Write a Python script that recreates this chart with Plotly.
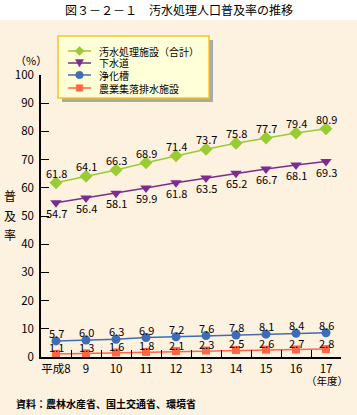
import plotly.graph_objects as go

# ---------------- data ----------------
years = ["平成8", "9", "10", "11", "12", "13", "14", "15", "16", "17"]
total = [61.8, 64.1, 66.3, 68.9, 71.4, 73.7, 75.8, 77.7, 79.4, 80.9]
sewer = [54.7, 56.4, 58.1, 59.9, 61.8, 63.5, 65.2, 66.7, 68.1, 69.3]
johkaso = [5.7, 6.0, 6.3, 6.9, 7.2, 7.6, 7.8, 8.1, 8.4, 8.6]
rural = [1.1, 1.3, 1.6, 1.8, 2.1, 2.3, 2.5, 2.6, 2.7, 2.8]
names = ["汚水処理施設（合計）", "下水道", "浄化槽", "農業集落排水施設"]
yticks = list(range(0, 101, 10))

# ---------------- styles ----------------
W, H = 357, 415
L, R, T, B = 41, 16, 75, 58
PW, PH = W - L - R, H - T - B
BG = "#FDF1E0"
FONT = "Noto Sans CJK JP"
colors = ["#99CC33", "#7B2D8E", "#3F6DB5", "#FF6644"]
symbols = ["diamond", "triangle-down", "circle", "square"]
msizes = [10, 10, 9, 8]
label_shift = [10, -10, 8, 6.5]   # pixel offset of value labels from the marker centre
series = [total, sewer, johkaso, rural]


def px(x):
    return (x - L) / PW


def py(y):
    return (H - B - y) / PH


fig = go.Figure()
annotations = []
for s, name, c, sym, ms, sh in zip(series, names, colors, symbols, msizes, label_shift):
    fig.add_trace(go.Scatter(
        x=years, y=s, name=name, mode="lines+markers",
        line=dict(color=c, width=1.5),
        marker=dict(symbol=sym, size=ms, color=c),
        cliponaxis=False, showlegend=False,
    ))
    # value labels: category index on the category axis
    for xi, yv in enumerate(s):
        annotations.append(dict(x=xi, y=yv, xref="x", yref="y", text=f"{yv:.1f}",
                                yshift=sh, xanchor="center", yanchor="middle", showarrow=False,
                                font=dict(family=FONT, size=11, color="black")))

shapes = []
# beige background below the title band
shapes.append(dict(type="rect", xref="paper", yref="paper", layer="below",
                   x0=px(0), x1=px(W), y0=py(H), y1=py(20),
                   fillcolor=BG, line=dict(width=0)))
# legend shadow and box
lx0, ly0, lx1, ly1 = 58, 36, 209, 98
shapes.append(dict(type="rect", xref="paper", yref="paper", layer="below",
                   x0=px(lx0 + 4), x1=px(lx1 + 4), y0=py(ly1 + 4), y1=py(ly0 + 4),
                   fillcolor="#AAAAAA", line=dict(width=0)))
shapes.append(dict(type="rect", xref="paper", yref="paper", layer="below",
                   x0=px(lx0), x1=px(lx1), y0=py(ly1), y1=py(ly0),
                   fillcolor="#FFFFD8", line=dict(color="#F7C520", width=1.5)))

rows = [51, 63, 75, 88]
kx = 79.5
for i, (name, c) in enumerate(zip(names, colors)):
    ry = rows[i]
    shapes.append(dict(type="line", xref="paper", yref="paper",
                       x0=px(68), x1=px(91), y0=py(ry), y1=py(ry),
                       line=dict(color=c, width=1.5)))
    annotations.append(dict(text=name, xref="paper", yref="paper", x=px(97), y=py(ry),
                            xanchor="left", yanchor="middle", showarrow=False,
                            font=dict(family=FONT, size=10, color="black")))

# legend key symbols (decoration)
def pth(points):
    return "M " + " L ".join(f"{px(a):.5f},{py(b):.5f}" for a, b in points) + " Z"


key_shapes = [
    dict(type="path", path=pth([(kx, rows[0] - 4.5), (kx + 4.5, rows[0]), (kx, rows[0] + 4.5), (kx - 4.5, rows[0])])),
    dict(type="path", path=pth([(kx - 4, rows[1] - 3.5), (kx + 4, rows[1] - 3.5), (kx, rows[1] + 4)])),
    dict(type="circle", x0=px(kx - 3.8), x1=px(kx + 3.8), y0=py(rows[2] + 3.8), y1=py(rows[2] - 3.8)),
    dict(type="rect", x0=px(kx - 3.3), x1=px(kx + 3.3), y0=py(rows[3] + 3.3), y1=py(rows[3] - 3.3)),
]
for ks, c in zip(key_shapes, colors):
    ks.update(xref="paper", yref="paper", fillcolor=c, line=dict(color=c, width=0.5))
    shapes.append(ks)

# texts
annotations.append(dict(text="図３－２－１　汚水処理人口普及率の推移", xref="paper", yref="paper",
                        x=px(179), y=py(9), xanchor="center", yanchor="middle", showarrow=False,
                        font=dict(family=FONT, size=12, color="black")))
annotations.append(dict(text="（%）", xref="paper", yref="paper",
                        x=px(31), y=py(60), xanchor="center", yanchor="middle", showarrow=False,
                        font=dict(family=FONT, size=11, color="black")))
for ch, yy in zip("普及率", [195, 215, 235]):
    annotations.append(dict(text=ch, xref="paper", yref="paper",
                            x=px(10), y=py(yy), xanchor="center", yanchor="middle", showarrow=False,
                            font=dict(family=FONT, size=12, color="black")))
annotations.append(dict(text="（年度）", xref="paper", yref="paper",
                        x=px(327), y=py(380), xanchor="center", yanchor="middle", showarrow=False,
                        font=dict(family=FONT, size=10.5, color="black")))
annotations.append(dict(text="<b>資料：農林水産省、国土交通省、環境省</b>", xref="paper", yref="paper",
                        x=px(14), y=py(403), xanchor="left", yanchor="middle", showarrow=False,
                        font=dict(family=FONT, size=10, color="black")))

fig.update_layout(
    width=W, height=H, margin=dict(l=L, r=R, t=T, b=B, autoexpand=False),
    paper_bgcolor="white", plot_bgcolor="rgba(0,0,0,0)",
    font=dict(family=FONT, size=11, color="black"),
    showlegend=False, shapes=shapes, annotations=annotations,
    xaxis=dict(type="category", range=[-0.5, 9.5], showline=True, linecolor="black", linewidth=1.5,
               ticks="inside", ticklen=7, tickcolor="black", tickson="boundaries",
               tickangle=0, automargin=False,
               showgrid=False, zeroline=False, tickfont=dict(family=FONT, size=11.5)),
    yaxis=dict(range=[0, 100], tickvals=yticks, showline=True, linecolor="black", linewidth=1.5,
               ticks="inside", ticklen=8, tickcolor="black", showgrid=False, zeroline=False,
               automargin=False,
               ticklabelstandoff=3, tickfont=dict(family=FONT, size=11.5)),
)

fig.write_html("out.html", config={"displayModeBar": False},
               post_script="document.body.style.margin='0';")
